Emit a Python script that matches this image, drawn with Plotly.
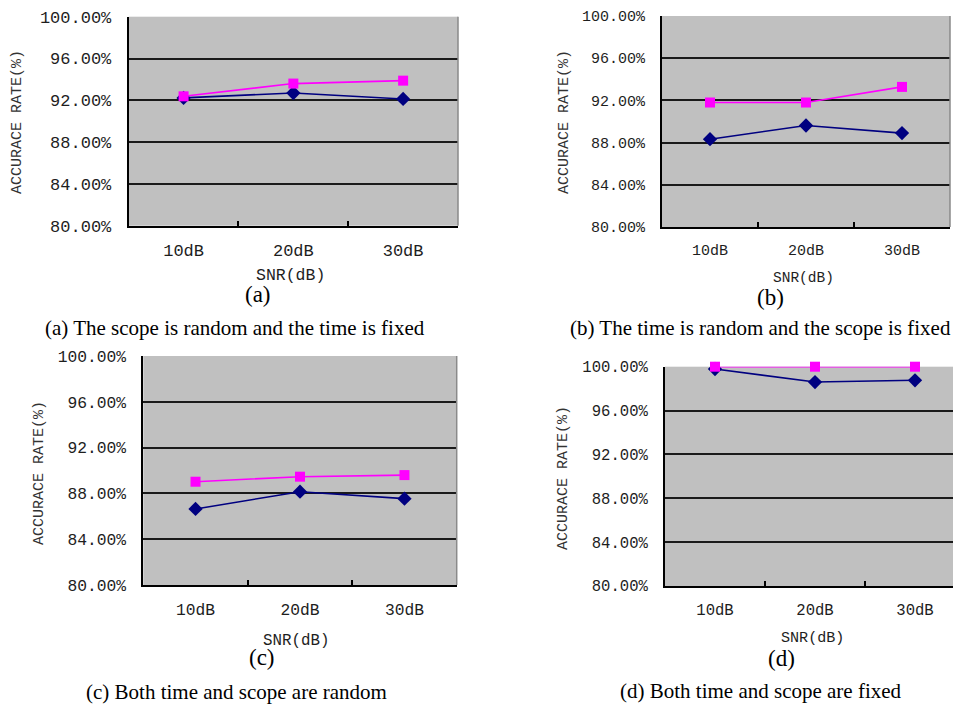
import plotly.graph_objects as go

# page body has an 8px default margin; figure sized to fit the 961x704 window
OFF = 8
W, H = 961 - OFF, 704 - OFF

categories = ["10dB", "20dB", "30dB"]
y_ticks = [80, 84, 88, 92, 96, 100]
y_tick_labels = ["80.00%", "84.00%", "88.00%", "92.00%", "96.00%", "100.00%"]

a_blue = [92.23, 92.70, 92.13]
a_pink = [92.38, 93.60, 93.88]
b_blue = [88.32, 89.62, 88.90]
b_pink = [91.80, 91.80, 93.28]
c_blue = [86.64, 88.15, 87.54]
c_pink = [89.02, 89.46, 89.60]
d_blue = [99.79, 98.60, 98.76]
d_pink = [100.0, 100.0, 100.0]

sub_labels = ["(a)", "(b)", "(c)", "(d)"]
captions = [
    "(a) The scope is random and the time is fixed",
    "(b) The time is random and the scope is fixed",
    "(c) Both time and scope are random",
    "(d) Both time and scope are fixed",
]
y_title = "ACCURACE RATE(%)"
x_title = "SNR(dB)"

NAVY = "#000080"
PINK = "#FF00FF"
MONO = "Liberation Mono"
SERIF = "Liberation Serif"
TXT = "#1e1e1e"


def px(x):
    return (x - OFF) / W


def py(y):
    return 1 - (y - OFF) / H


# panel geometry in window pixels (left, right, top, bottom)
panels = [
    dict(box=(128.7, 458, 16.7, 225.7), blue=a_blue, pink=a_pink, fs=17,
         ytitle=(18, 122), xtitle=(290, 276), lab=(258, 294), cap=(235, 328), right_vis=True),
    dict(box=(662, 950, 16, 227), blue=b_blue, pink=b_pink, fs=15,
         ytitle=(565, 122), xtitle=(803, 278), lab=(770, 297), cap=(760, 328), right_vis=True),
    dict(box=(143.3, 456.7, 356, 585), blue=c_blue, pink=c_pink, fs=16.3,
         ytitle=(39, 473), xtitle=(296, 641), lab=(262, 657), cap=(236, 692), right_vis=True),
    dict(box=(665, 965, 366.7, 586), blue=d_blue, pink=d_pink, fs=15.6,
         ytitle=(563, 478), xtitle=(812, 638), lab=(781, 658), cap=(761, 691), right_vis=False),
]

xpos = list(range(1, len(categories) + 1))

fig = go.Figure()
layout = dict(
    width=W, height=H, margin=dict(l=0, r=0, t=0, b=0, autoexpand=False),
    paper_bgcolor="white", plot_bgcolor="#C0C0C0", showlegend=False,
)
annotations = []
shapes = []

for i, p in enumerate(panels):
    n = "" if i == 0 else str(i + 1)
    l, r, t, b = p["box"]
    r_vis = min(r, OFF + W)
    ncat = len(categories)
    cat_w = (r - l) / ncat
    x_end = 0.5 + (r_vis - l) / cat_w
    xd = [px(l), px(r_vis)]
    yd = [py(b), py(t)]
    xa = "x" + n
    ya = "y" + n
    fig.add_trace(go.Scatter(
        x=xpos, y=p["blue"], mode="lines+markers", xaxis=xa, yaxis=ya,
        line=dict(color=NAVY, width=1.6),
        marker=dict(symbol="diamond", size=11, color=NAVY),
        cliponaxis=False, hoverinfo="skip"))
    fig.add_trace(go.Scatter(
        x=xpos, y=p["pink"], mode="lines+markers", xaxis=xa, yaxis=ya,
        line=dict(color=PINK, width=1.6),
        marker=dict(symbol="square", size=10, color=PINK),
        cliponaxis=False, hoverinfo="skip"))
    fs = p["fs"]
    layout["xaxis" + n] = dict(
        domain=xd, anchor=ya, range=[0.5, x_end], showgrid=False, zeroline=False,
        automargin=False,
        tickvals=xpos, ticktext=categories, ticks="", ticklabelstandoff=8,
        tickfont=dict(family=MONO, size=fs, color=TXT),
        showline=True, linecolor="black", linewidth=2,
        minor=dict(tickvals=[k + 0.5 for k in xpos[:-1]], ticks="inside",
                   ticklen=5, tickcolor="black", tickwidth=2, showgrid=False),
        fixedrange=True,
    )
    layout["yaxis" + n] = dict(
        domain=yd, anchor=xa, range=[80, 100], zeroline=False, automargin=False,
        tickvals=y_ticks, ticktext=y_tick_labels, ticks="", ticklabelstandoff=12,
        tickfont=dict(family=MONO, size=fs, color=TXT),
        showgrid=True, gridcolor="#1a1a1a", gridwidth=1.6,
        showline=True, linecolor="black", linewidth=2, fixedrange=True,
    )
    if p["right_vis"]:
        shapes.append(dict(type="line", xref=xa + " domain", yref=ya + " domain",
                           x0=1, x1=1, y0=0, y1=1,
                           line=dict(color="#8a8a8a", width=1.5), layer="above"))
    ytx, yty = p["ytitle"]
    annotations.append(dict(text=y_title, x=px(ytx), y=py(yty), xref="paper", yref="paper",
                            textangle=-90, showarrow=False, xanchor="center", yanchor="middle",
                            font=dict(family=MONO, size=15, color="#333")))
    xtx, xty = p["xtitle"]
    annotations.append(dict(text=x_title, x=px(xtx), y=py(xty), xref="paper", yref="paper",
                            showarrow=False, xanchor="center", yanchor="middle",
                            font=dict(family=MONO, size=fs - 0.5, color=TXT)))
    lx, ly = p["lab"]
    annotations.append(dict(text=sub_labels[i], x=px(lx), y=py(ly), xref="paper", yref="paper",
                            showarrow=False, xanchor="center", yanchor="middle",
                            font=dict(family=SERIF, size=23, color="black")))
    cx, cy = p["cap"]
    annotations.append(dict(text=captions[i], x=px(cx), y=py(cy), xref="paper", yref="paper",
                            showarrow=False, xanchor="center", yanchor="middle",
                            font=dict(family=SERIF, size=21, color="black")))

layout["annotations"] = annotations
layout["shapes"] = shapes
fig.update_layout(**layout)
fig.write_html("out.html")
